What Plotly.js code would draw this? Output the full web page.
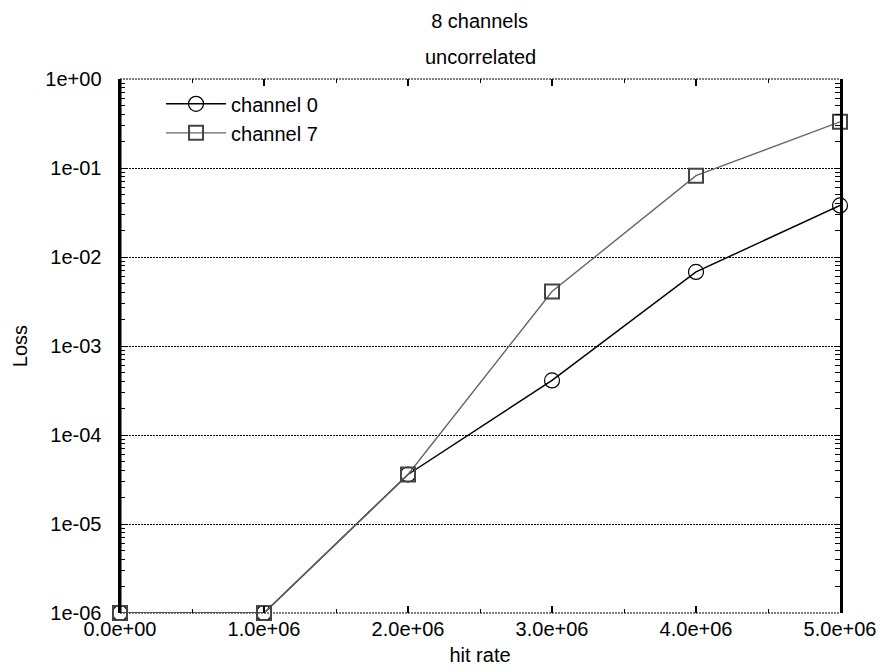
<!DOCTYPE html>
<html>
<head>
<meta charset="utf-8">
<script src="https://cdn.plot.ly/plotly-3.0.1.min.js"></script>
<style>html,body{margin:0;padding:0;background:#fff;}#chart{width:884px;height:672px;}</style>
</head>
<body>
<div id="chart"></div>
<script>
// Data
var hitRate = [0, 1e6, 2e6, 3e6, 4e6, 5e6];
var lossChannel0 = [1e-6, 1e-6, 3.6e-5, 4.1e-4, 6.8e-3, 3.8e-2];
var lossChannel7 = [1e-6, 1e-6, 3.6e-5, 4.1e-3, 8.2e-2, 3.3e-1];
var seriesNames = ["channel 0", "channel 7"];
var xTickVals = [0, 1e6, 2e6, 3e6, 4e6, 5e6];
var xTickText = ["0.0e+00", "1.0e+06", "2.0e+06", "3.0e+06", "4.0e+06", "5.0e+06"];
var yTickVals = [1, 1e-1, 1e-2, 1e-3, 1e-4, 1e-5, 1e-6];
var yTickText = ["1e+00", "1e-01", "1e-02", "1e-03", "1e-04", "1e-05", "1e-06"];

var FONT = "Liberation Sans, Arial, Helvetica, sans-serif";

var traces = [
  {
    x: hitRate, y: lossChannel0, name: seriesNames[0],
    type: "scatter", mode: "lines+markers", cliponaxis: false,
    line: {color: "#000000", width: 1.5},
    marker: {symbol: "circle-open", size: 15, color: "#000000", line: {width: 1.2, color: "#000000"}}
  },
  {
    x: hitRate, y: lossChannel7, name: seriesNames[1],
    type: "scatter", mode: "lines+markers", cliponaxis: false,
    line: {color: "#666666", width: 1.4},
    marker: {symbol: "square-open", size: 14, color: "#444444", line: {width: 2, color: "#444444"}}
  }
];

var layout = {
  width: 884, height: 672,
  paper_bgcolor: "#ffffff", plot_bgcolor: "#ffffff",
  margin: {l: 120, r: 44, t: 79, b: 59, pad: 0},
  font: {family: FONT, size: 20, color: "#000000"},
  showlegend: true,
  title: {text: "8 channels", x: 0.5425, xanchor: "center", xref: "container", y: 1 - 21/672, yanchor: "middle", font: {family: FONT, size: 20, color: "#000"}},
  annotations: [
    {text: "uncorrelated", xref: "paper", yref: "paper", x: 0.5, y: (613 - 57) / 534, xanchor: "center", yanchor: "middle", showarrow: false, font: {family: FONT, size: 20, color: "#000"}}
  ],
  legend: {
    x: 0.057, y: 0.99, xanchor: "left", yanchor: "top",
    bgcolor: "rgba(0,0,0,0)", borderwidth: 0,
    font: {family: FONT, size: 20, color: "#000"},
    itemwidth: 60, tracegroupgap: 0
  },
  xaxis: {
    type: "linear", range: [0, 5e6],
    tickvals: xTickVals, ticktext: xTickText,
    ticks: "inside", ticklen: 7, tickwidth: 1.5, tickcolor: "#000",
    mirror: "ticks", showline: false, showgrid: false, zeroline: false,
    minor: {ticks: "inside", ticklen: 4, tickwidth: 1, tickcolor: "#000", dtick: 5e5, showgrid: false},
    tickfont: {family: FONT, size: 20, color: "#000"},
    ticklabelstandoff: 2,
    title: {text: "hit rate", font: {family: FONT, size: 20, color: "#000"}, standoff: 8}
  },
  yaxis: {
    type: "log", range: [-6, 0],
    tickvals: yTickVals, ticktext: yTickText,
    ticks: "inside", ticklen: 6, tickwidth: 1, tickcolor: "#000",
    showline: true, linewidth: 2.5, linecolor: "#000", mirror: "allticks",
    showgrid: true, gridcolor: "#000", gridwidth: 1, griddash: "2px,1px",
    zeroline: false,
    minor: {ticks: "inside", ticklen: 5, tickwidth: 1, tickcolor: "#000", dtick: "D1", showgrid: false},
    tickfont: {family: FONT, size: 20, color: "#000"},
    ticklabelstandoff: 12,
    title: {text: "Loss", font: {family: FONT, size: 20, color: "#000"}, standoff: 13}
  },
  shapes: [
    {type: "line", xref: "paper", yref: "paper", x0: 0, x1: 1, y0: 1, y1: 1, line: {color: "#000", width: 1, dash: "2px,1px"}, layer: "below"},
    {type: "line", xref: "paper", yref: "paper", x0: 0, x1: 1, y0: 0, y1: 0, line: {color: "#000", width: 1, dash: "2px,1px"}, layer: "below"},
    {type: "line", xref: "paper", yref: "paper", x0: 0, x1: 0, y0: 0, y1: 1, line: {color: "#000000", width: 3}, layer: "above"}
  ]
};

Plotly.newPlot("chart", traces, layout, {displayModeBar: false, staticPlot: true});
</script>
</body>
</html>
